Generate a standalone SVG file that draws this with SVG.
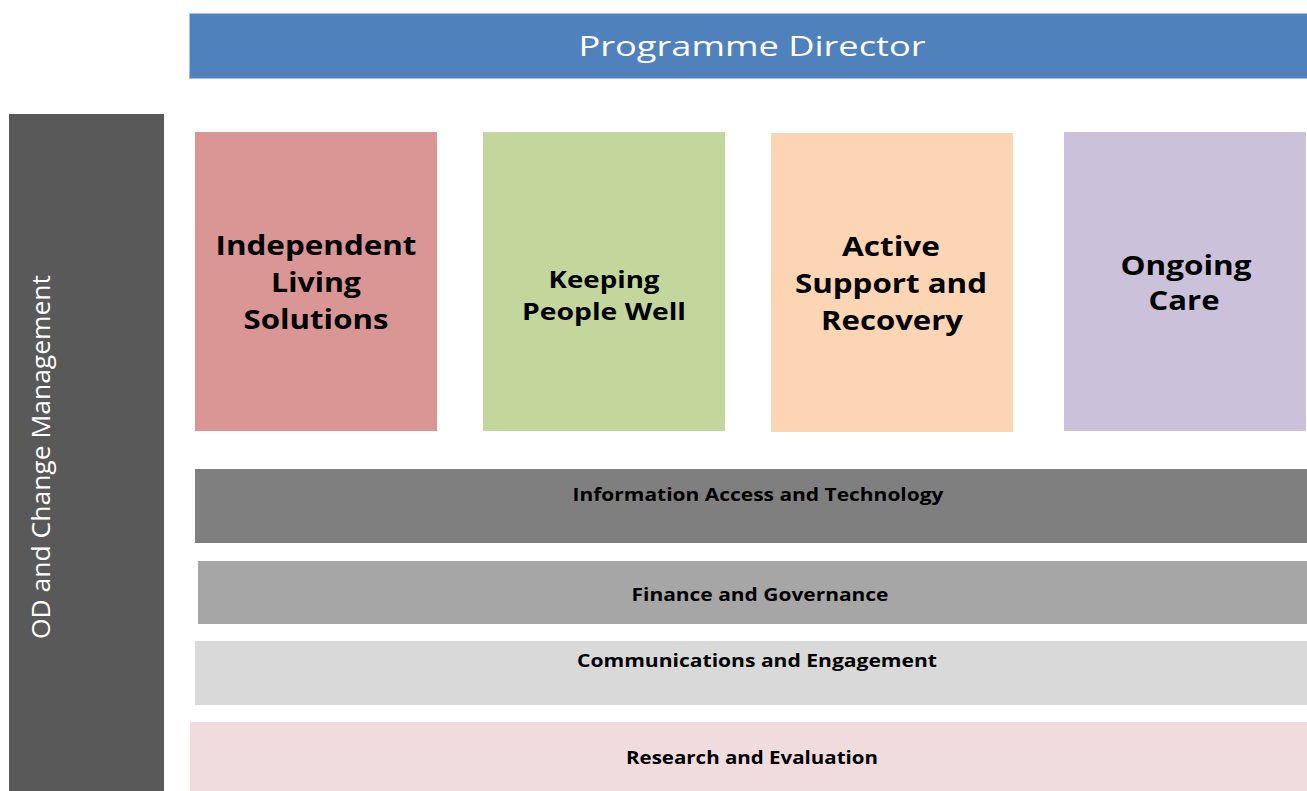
<svg xmlns="http://www.w3.org/2000/svg" width="1307" height="791" viewBox="0 0 1307 791">
<style>
.t{font-family:"Open Sans","Liberation Sans",sans-serif;}
.box{font-family:"Open Sans","Liberation Sans",sans-serif;font-weight:bold;fill:#000;text-anchor:middle;}
.bar{font-family:"Open Sans","Liberation Sans",sans-serif;font-weight:bold;fill:#000;text-anchor:middle;font-size:17px;}
</style>
<rect width="1307" height="791" fill="#ffffff"/>
<g id="director">
<rect x="189.5" y="13.5" width="1120" height="65" fill="#4f81bd" stroke="#a7c0de" stroke-width="1"/>
<text class="t" x="752" y="56" font-size="28" fill="#ffffff" text-anchor="middle" textLength="347" lengthAdjust="spacingAndGlyphs">Programme Director</text>
</g>
<g id="od">
<rect x="9" y="114" width="155" height="677" fill="#595959"/>
<text class="t" transform="translate(50,457) rotate(-90)" font-size="26" fill="#ffffff" text-anchor="middle" textLength="364" lengthAdjust="spacingAndGlyphs">OD and Change Management</text>
</g>
<g id="ils">
<rect x="195" y="132" width="242" height="299" fill="#d99694"/>
<text class="box" font-size="26"><tspan x="316" y="255" textLength="201" lengthAdjust="spacingAndGlyphs">Independent</tspan></text>
<text class="box" font-size="26"><tspan x="316" y="292" textLength="90" lengthAdjust="spacingAndGlyphs">Living</tspan></text>
<text class="box" font-size="26"><tspan x="316" y="329" textLength="145" lengthAdjust="spacingAndGlyphs">Solutions</tspan></text>
</g>
<g id="kpw">
<rect x="483" y="132" width="242" height="299" fill="#c3d69b"/>
<text class="box" font-size="23" x="604" y="288" textLength="111" lengthAdjust="spacingAndGlyphs">Keeping</text>
<text class="box" font-size="23" x="604" y="320" textLength="164" lengthAdjust="spacingAndGlyphs">People Well</text>
</g>
<g id="asr">
<rect x="771" y="133" width="242" height="299" fill="#fcd5b5"/>
<text class="box" font-size="26" x="891" y="256" textLength="98" lengthAdjust="spacingAndGlyphs">Active</text>
<text class="box" font-size="26" x="891" y="293" textLength="192" lengthAdjust="spacingAndGlyphs">Support and</text>
<text class="box" font-size="26" x="892" y="330" textLength="142" lengthAdjust="spacingAndGlyphs">Recovery</text>
</g>
<g id="ongoing">
<rect x="1064" y="132" width="242" height="299" fill="#ccc1da"/>
<text class="box" font-size="26" x="1186" y="275" textLength="131" lengthAdjust="spacingAndGlyphs">Ongoing</text>
<text class="box" font-size="26" x="1184" y="310" textLength="71" lengthAdjust="spacingAndGlyphs">Care</text>
</g>
<g id="iat">
<rect x="195" y="469" width="1112" height="74" fill="#7f7f7f"/>
<text class="bar" x="758" y="501" textLength="371" lengthAdjust="spacingAndGlyphs">Information Access and Technology</text>
</g>
<g id="fg">
<rect x="198" y="561" width="1109" height="63" fill="#a6a6a6"/>
<text class="bar" x="760" y="601" textLength="257" lengthAdjust="spacingAndGlyphs">Finance and Governance</text>
</g>
<g id="ce">
<rect x="195" y="641" width="1112" height="64" fill="#d9d9d9"/>
<text class="bar" x="757" y="667" textLength="360" lengthAdjust="spacingAndGlyphs">Communications and Engagement</text>
</g>
<g id="re">
<rect x="190" y="722" width="1117" height="69" fill="#f0dcdc"/>
<text class="bar" x="752" y="764" textLength="252" lengthAdjust="spacingAndGlyphs">Research and Evaluation</text>
</g>
<g id="connectors"></g>
</svg>
